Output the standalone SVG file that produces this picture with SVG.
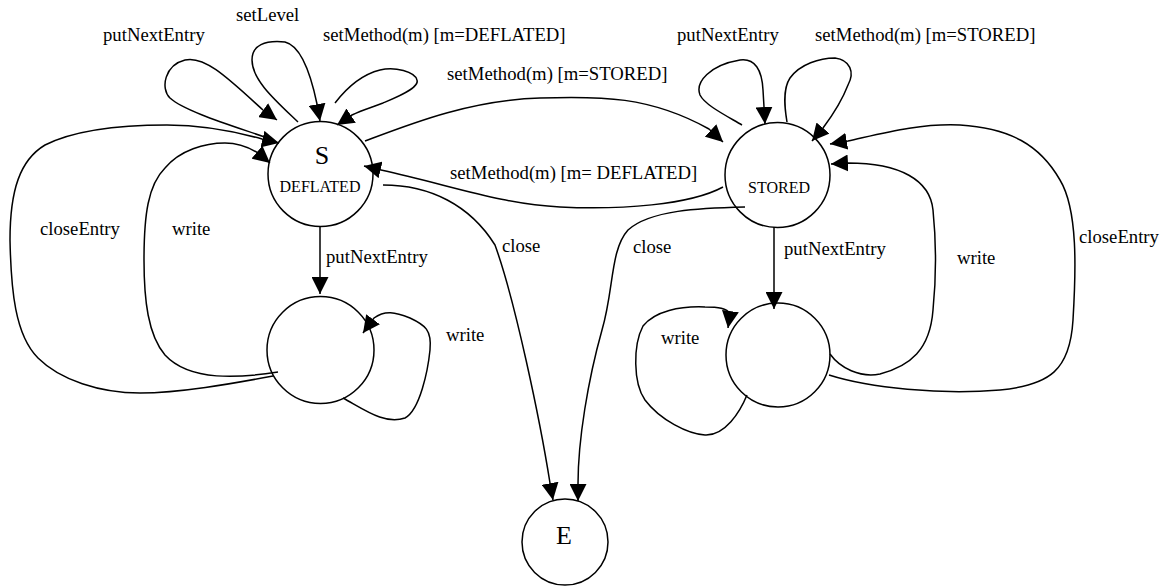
<svg xmlns="http://www.w3.org/2000/svg" width="1162" height="586" viewBox="0 0 1162 586">
<style>
.node{fill:none;stroke:#000;stroke-width:1.5}
.edge{fill:none;stroke:#000;stroke-width:1.5;marker-end:url(#ah)}
.lbl{font-family:"Liberation Serif","Times New Roman",serif;font-size:18.7px;fill:#000}
.big{font-family:"Liberation Serif","Times New Roman",serif;font-size:26px;fill:#000;text-anchor:middle}
.small{font-family:"Liberation Serif","Times New Roman",serif;font-size:16px;fill:#000;text-anchor:middle}
</style>
<defs>
<marker id="ah" viewBox="0 0 17 17" refX="17" refY="8.5" markerWidth="17" markerHeight="17" markerUnits="userSpaceOnUse" orient="auto">
<path d="M0,0 L17,8.5 L0,17 z" fill="#000"/>
</marker>
</defs>
<rect width="1162" height="586" fill="#fff"/>
<g id="nodeS"><circle class="node" cx="320.5" cy="174" r="52.5"/><text class="big" x="322" y="164">S</text><text class="small" x="320" y="192">DEFLATED</text></g>
<g id="nodeStored"><circle class="node" cx="777.5" cy="175" r="52.5"/><text class="small" x="779" y="193">STORED</text></g>
<g id="nodeDefWrite"><circle class="node" cx="320.5" cy="350" r="53.5"/></g>
<g id="nodeStoWrite"><circle class="node" cx="778" cy="355" r="52"/></g>
<g id="nodeE"><circle class="node" cx="565" cy="542" r="43"/><text class="big" x="564" y="544">E</text></g>
<g id="connectors">
<path class="edge" d="M273,140 C240,128 185,112 170,98 C160,88 165,65 185,60 C205,55 230,80 263,110 L277,120"/>
<path class="edge" d="M298,122 C275,100 252,80 252,60 C252,45 265,40 285,42 C302,46 312,80 317,104 L320,121"/>
<path class="edge" d="M335,103 C345,90 360,75 380,70 C395,66 415,72 417,80 C420,88 395,98 383,103 C370,108 362,110 352,115 L337,125"/>
<path class="edge" d="M365,141 C410,124 470,100 540,98 C600,96 650,96 709,129 L723,142"/>
<path class="edge" d="M723,187 C690,205 620,210 560,207 C500,204 450,185 381,170 L364,166"/>
<path class="edge" d="M383,185 C430,185 470,205 495,245 C515,300 540,420 550,483 L553,500"/>
<path class="edge" d="M745,207 C700,208 650,210 628,230 C610,250 614,290 602,330 C588,380 578,440 578,484 L578,501"/>
<path class="edge" d="M320,226 L320,277 L320,294"/>
<path class="edge" d="M343,398 C365,410 385,425 405,418 C420,410 428,370 430,350 C432,330 425,325 410,318 C395,312 385,310 374,318 L363,333"/>
<path class="edge" d="M278,372 C240,378 190,382 165,355 C148,335 144,300 144,260 C144,215 148,185 165,168 C180,150 205,143 225,143 C240,143 250,148 258,153 L270,163"/>
<path class="edge" d="M273,376 C230,384 180,393 140,393 C100,393 60,380 38,358 C15,335 11,290 10,240 C10,190 20,160 45,145 C75,130 120,125 167,125 C200,125 230,130 262,139 L279,143"/>
<path class="edge" d="M742,125 C725,115 705,105 700,95 C695,82 710,65 740,60 C755,58 762,70 763,90 L764,107 L765,124"/>
<path class="edge" d="M787,122 C785,110 782,90 790,78 C800,64 820,58 835,58 C850,60 855,72 848,85 C843,98 835,112 823,128 L812,141"/>
<path class="edge" d="M774,227 L774,293 L774,309"/>
<path class="edge" d="M747,395 C740,412 725,436 705,435 C688,434 660,420 645,400 C633,383 633,345 643,326 C655,311 680,306 705,307 C718,307 727,308 730,314 L728,328"/>
<path class="edge" d="M830,354 C840,368 860,378 880,374 C910,366 930,350 933,310 C936,280 936,240 933,210 C930,180 900,163 848,163 L831,164"/>
<path class="edge" d="M829,375 C870,388 940,395 1000,390 C1050,385 1070,370 1073,320 C1076,270 1078,210 1060,180 C1040,145 1010,128 960,125 C920,123 880,134 848,141 L830,144"/>
</g>
<g id="labels">
<text class="lbl" x="103" y="41">putNextEntry</text>
<text class="lbl" x="236" y="21">setLevel</text>
<text class="lbl" x="323" y="41">setMethod(m) [m=DEFLATED]</text>
<text class="lbl" x="447" y="80">setMethod(m) [m=STORED]</text>
<text class="lbl" x="677" y="41">putNextEntry</text>
<text class="lbl" x="815" y="41">setMethod(m) [m=STORED]</text>
<text class="lbl" x="450" y="179">setMethod(m) [m= DEFLATED]</text>
<text class="lbl" x="40" y="235">closeEntry</text>
<text class="lbl" x="172" y="235">write</text>
<text class="lbl" x="326" y="263">putNextEntry</text>
<text class="lbl" x="502" y="252">close</text>
<text class="lbl" x="633" y="253">close</text>
<text class="lbl" x="784" y="255">putNextEntry</text>
<text class="lbl" x="957" y="264">write</text>
<text class="lbl" x="1079" y="243">closeEntry</text>
<text class="lbl" x="446" y="341">write</text>
<text class="lbl" x="661" y="344">write</text>
</g>
</svg>
